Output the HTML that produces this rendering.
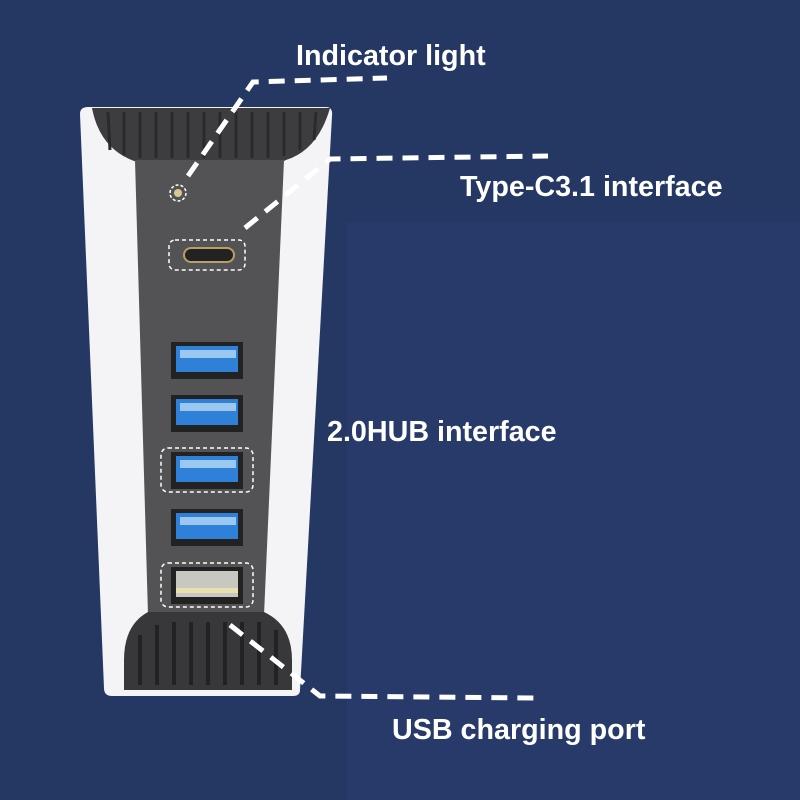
<!DOCTYPE html>
<html><head><style>
html,body{margin:0;padding:0;background:#24365f;}
svg{display:block}
text{font-family:"Liberation Sans",sans-serif;font-weight:bold;fill:#fff;font-size:28.7px}
</style></head><body>
<svg width="800" height="800" viewBox="0 0 800 800">
<rect width="800" height="800" fill="#253864"/>
<rect x="347" y="222" width="453" height="578" fill="#283a6a"/>
<path d="M80 114 Q80 107 88 107 L326 107 Q333 107 332 116 L300 690 Q300 696 293 696 L112 696 Q104 696 104 688 Z" fill="#f4f4f6"/>
<path d="M92 108 L330 108 Q318 150 286 160 L282 162 L137 162 Q100 150 92 108 Z" fill="#3d3d40"/>
<g stroke="#2a2a2c" stroke-width="3">
<line x1="108" y1="112" x2="110" y2="150"/><line x1="124" y1="112" x2="124" y2="155"/><line x1="140" y1="112" x2="140" y2="158"/><line x1="156" y1="112" x2="156" y2="158"/><line x1="172" y1="112" x2="172" y2="158"/><line x1="188" y1="112" x2="188" y2="158"/><line x1="204" y1="112" x2="204" y2="158"/><line x1="220" y1="112" x2="220" y2="158"/><line x1="236" y1="112" x2="236" y2="158"/><line x1="252" y1="112" x2="252" y2="158"/><line x1="268" y1="112" x2="268" y2="158"/><line x1="284" y1="112" x2="284" y2="156"/><line x1="300" y1="112" x2="300" y2="150"/><line x1="316" y1="112" x2="314" y2="140"/>
</g>
<path d="M135 160 L284 160 L264 615 L148 615 Z" fill="#535356"/>
<path d="M148 612 L264 612 Q292 625 292 660 L292 690 L124 690 L124 660 Q124 625 148 612 Z" fill="#38383b"/>
<g stroke="#222" stroke-width="4">
<line x1="140" y1="635" x2="140" y2="685"/><line x1="157" y1="625" x2="157" y2="685"/><line x1="174" y1="622" x2="174" y2="685"/><line x1="191" y1="622" x2="191" y2="685"/><line x1="208" y1="622" x2="208" y2="685"/><line x1="225" y1="622" x2="225" y2="685"/><line x1="242" y1="622" x2="242" y2="685"/><line x1="259" y1="622" x2="259" y2="685"/><line x1="276" y1="630" x2="276" y2="685"/>
</g>
<circle cx="178" cy="193" r="4" fill="#d8c890"/>
<circle cx="178" cy="193" r="8" fill="none" stroke="#fff" stroke-width="1.5" stroke-dasharray="3 2"/>
<rect x="184" y="248" width="50" height="14" rx="7" fill="#222" stroke="#b8a060" stroke-width="2"/>
<rect x="169" y="240" width="76" height="30" rx="6" fill="none" stroke="#fff" stroke-width="1.5" stroke-dasharray="4 3"/>
<g>
<rect x="171" y="342" width="72" height="37" fill="#222"/><rect x="176" y="346" width="62" height="26" fill="#2f80d8"/><rect x="180" y="350" width="56" height="8" fill="#9cc8f0"/>
<rect x="171" y="395" width="72" height="37" fill="#222"/><rect x="176" y="399" width="62" height="26" fill="#2f80d8"/><rect x="180" y="403" width="56" height="8" fill="#9cc8f0"/>
<rect x="171" y="452" width="72" height="37" fill="#222"/><rect x="176" y="456" width="62" height="26" fill="#2f80d8"/><rect x="180" y="460" width="56" height="8" fill="#9cc8f0"/>
<rect x="171" y="509" width="72" height="37" fill="#222"/><rect x="176" y="513" width="62" height="26" fill="#2f80d8"/><rect x="180" y="517" width="56" height="8" fill="#9cc8f0"/>
<rect x="171" y="567" width="72" height="37" fill="#222"/><rect x="176" y="571" width="62" height="26" fill="#c8c8c0"/><rect x="176" y="588" width="62" height="5" fill="#e8e0b0"/>
</g>
<rect x="161" y="448" width="92" height="44" rx="7" fill="none" stroke="#fff" stroke-width="1.5" stroke-dasharray="4 3"/>
<rect x="161" y="563" width="92" height="44" rx="7" fill="none" stroke="#fff" stroke-width="1.5" stroke-dasharray="4 3"/>
<g fill="none" stroke="#fff" stroke-width="5" stroke-dasharray="16 10">
<polyline points="188,176 253,82 387,78"/>
<polyline points="245,228 330,159 548,156"/>
<polyline points="230,625 320,696 535,698"/>
</g>
<text x="296" y="65">Indicator light</text>
<text x="460" y="196">Type-C3.1 interface</text>
<text x="327" y="441">2.0HUB interface</text>
<text x="392" y="739">USB charging port</text>
</svg>
</body></html>
